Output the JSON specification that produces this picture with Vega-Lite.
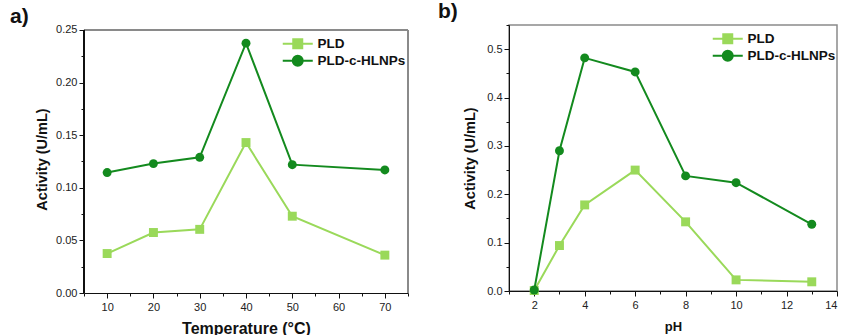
{
  "$schema": "https://vega.github.io/schema/vega-lite/v6.json",
  "padding": {"left": 10, "top": 0, "right": 0, "bottom": 0},
  "spacing": 28,
  "config": {
    "font": "Liberation Sans",
    "view": {"stroke": "#8a8a8a", "strokeWidth": 1.5},
    "axis": {"grid": false, "domainColor": "#111", "tickColor": "#111", "labelColor": "#222", "labelFont": "Liberation Sans", "labelFontSize": 11, "titleFont": "Liberation Sans", "titleFontWeight": "bold", "titleColor": "#111", "domainWidth": 1, "tickWidth": 1, "labelOverlap": false},
    "title": {"font": "Liberation Sans", "fontSize": 21, "fontWeight": "bold", "color": "#111", "anchor": "start", "frame": "group"},
    "legend": {"labelFont": "Liberation Sans", "labelFontSize": 13.5, "labelFontWeight": "bold", "labelColor": "#111", "symbolSize": 100, "labelOffset": 23, "padding": 0}
  },
  "datasets": {
    "temp": [
      {"x": 10, "series": "PLD", "activity": 0.0375},
      {"x": 20, "series": "PLD", "activity": 0.0575},
      {"x": 30, "series": "PLD", "activity": 0.0605},
      {"x": 40, "series": "PLD", "activity": 0.143},
      {"x": 50, "series": "PLD", "activity": 0.073},
      {"x": 70, "series": "PLD", "activity": 0.036},
      {"x": 10, "series": "PLD-c-HLNPs", "activity": 0.1145},
      {"x": 20, "series": "PLD-c-HLNPs", "activity": 0.123},
      {"x": 30, "series": "PLD-c-HLNPs", "activity": 0.129},
      {"x": 40, "series": "PLD-c-HLNPs", "activity": 0.2375},
      {"x": 50, "series": "PLD-c-HLNPs", "activity": 0.122},
      {"x": 70, "series": "PLD-c-HLNPs", "activity": 0.117}
    ],
    "ph": [
      {"x": 2, "series": "PLD", "activity": 0.001},
      {"x": 3, "series": "PLD", "activity": 0.094},
      {"x": 4, "series": "PLD", "activity": 0.178},
      {"x": 6, "series": "PLD", "activity": 0.25},
      {"x": 8, "series": "PLD", "activity": 0.143},
      {"x": 10, "series": "PLD", "activity": 0.023},
      {"x": 13, "series": "PLD", "activity": 0.019},
      {"x": 2, "series": "PLD-c-HLNPs", "activity": 0.002},
      {"x": 3, "series": "PLD-c-HLNPs", "activity": 0.29},
      {"x": 4, "series": "PLD-c-HLNPs", "activity": 0.482},
      {"x": 6, "series": "PLD-c-HLNPs", "activity": 0.453},
      {"x": 8, "series": "PLD-c-HLNPs", "activity": 0.238},
      {"x": 10, "series": "PLD-c-HLNPs", "activity": 0.224},
      {"x": 13, "series": "PLD-c-HLNPs", "activity": 0.138}
    ]
  },
  "hconcat": [
    {
      "width": 324,
      "height": 268,
      "view": {"stroke": null},
      "title": {"text": "a)", "dx": -74, "offset": -3},
      "data": {"name": "temp"},
      "encoding": {
        "x": {"field": "x", "type": "quantitative", "title": "Temperature (°C)",
          "scale": {"domain": [5, 75], "nice": false, "zero": false},
          "axis": {"values": [5, 10, 15, 20, 25, 30, 35, 40, 45, 50, 55, 60, 65, 70, 75], "labelExpr": "datum.value % 10 === 0 ? datum.label : ''", "tickSize": {"condition": {"test": "datum.value % 10 === 0", "value": 5}, "value": 3}, "labelPadding": 3, "titleFontSize": 16, "titlePadding": 8}},
        "y": {"field": "activity", "type": "quantitative", "title": "Activity (U/mL)",
          "scale": {"domain": [0, 0.25475], "nice": false},
          "axis": {"domain": false, "values": [0, 0.025, 0.05, 0.075, 0.1, 0.125, 0.15, 0.175, 0.2, 0.225, 0.25], "format": ".2f", "labelExpr": "abs(round(datum.value*20) - datum.value*20) < 0.001 ? datum.label : ''", "tickSize": {"condition": {"test": "abs(round(datum.value*20) - datum.value*20) < 0.001", "value": 5}, "value": 3}, "labelPadding": 2, "titleFontSize": 14.5, "titlePadding": 6}}
      },
      "layer": [
        {"mark": {"type": "rule", "color": "#8a8a8a", "strokeWidth": 1.5},
          "encoding": {"x": {"datum": 5, "type": "quantitative"}, "x2": {"datum": 75}, "y": {"datum": 0.25, "type": "quantitative"}}},
        {"mark": {"type": "rule", "color": "#8a8a8a", "strokeWidth": 1.5},
          "encoding": {"x": {"datum": 75, "type": "quantitative"}, "y": {"datum": 0, "type": "quantitative"}, "y2": {"datum": 0.25}}},
        {"mark": {"type": "rule", "color": "#111", "strokeWidth": 1},
          "encoding": {"x": {"datum": 5, "type": "quantitative"}, "y": {"datum": 0, "type": "quantitative"}, "y2": {"datum": 0.25}}},
        {"mark": {"type": "line", "strokeWidth": 2},
          "encoding": {
            "color": {"field": "series", "type": "nominal", "scale": {"domain": ["PLD", "PLD-c-HLNPs"], "range": ["#9ad95a", "#138a1e"]},
              "legend": {"title": null, "orient": "none", "legendX": 197, "legendY": 12, "rowPadding": -2,
                "encode": {"symbols": {"update": {
                  "shape": {"signal": "datum.value === 'PLD' ? 'M-1,0H5M1.1,-0.9H2.9V0.9H1.1Z' : 'M-1,0H5M3,0A1,1,0,1,1,1,0A1,1,0,1,1,3,0'"},
                  "stroke": {"signal": "datum.value === 'PLD' ? '#9ad95a' : '#138a1e'"},
                  "fill": {"signal": "datum.value === 'PLD' ? '#9ad95a' : '#138a1e'"},
                  "strokeWidth": {"value": 2}, "opacity": {"value": 1}, "fillOpacity": {"value": 1}, "strokeOpacity": {"value": 1}, "size": {"value": 100}
                }}}}}
          }},
        {"transform": [{"filter": "datum.series === 'PLD'"}],
          "mark": {"type": "point", "shape": "square", "filled": true, "opacity": 1, "size": 80},
          "encoding": {
            "color": {"field": "series", "type": "nominal", "scale": {"domain": ["PLD", "PLD-c-HLNPs"], "range": ["#9ad95a", "#138a1e"]}}
          }},
        {"transform": [{"filter": "datum.series !== 'PLD'"}],
          "mark": {"type": "point", "shape": "circle", "filled": true, "opacity": 1, "size": 80},
          "encoding": {
            "color": {"field": "series", "type": "nominal", "scale": {"domain": ["PLD", "PLD-c-HLNPs"], "range": ["#9ad95a", "#138a1e"]}}
          }}
      ]
    },
    {
      "width": 328,
      "height": 266,
      "title": {"text": "b)", "dx": -71, "offset": -3},
      "data": {"name": "ph"},
      "encoding": {
        "x": {"field": "x", "type": "quantitative", "title": "pH",
          "scale": {"domain": [1, 14], "nice": false, "zero": false},
          "axis": {"values": [1, 2, 3, 4, 5, 6, 7, 8, 9, 10, 11, 12, 13, 14], "labelExpr": "datum.value % 2 === 0 ? datum.label : ''", "tickSize": {"condition": {"test": "datum.value % 2 === 0", "value": 5}, "value": 3}, "labelPadding": 3, "titleFontSize": 13, "titlePadding": 10}},
        "y": {"field": "activity", "type": "quantitative", "title": "Activity (U/mL)",
          "scale": {"domain": [0, 0.55], "nice": false},
          "axis": {"values": [0, 0.05, 0.1, 0.15, 0.2, 0.25, 0.3, 0.35, 0.4, 0.45, 0.5, 0.55], "format": ".1f", "labelExpr": "abs(round(datum.value*10) - datum.value*10) < 0.001 ? datum.label : ''", "tickSize": {"condition": {"test": "abs(round(datum.value*10) - datum.value*10) < 0.001", "value": 5}, "value": 3}, "labelPadding": 2, "titleFontSize": 14.5, "titlePadding": 9}}
      },
      "layer": [
        {"mark": {"type": "line", "strokeWidth": 2},
          "encoding": {
            "color": {"field": "series", "type": "nominal", "scale": {"domain": ["PLD", "PLD-c-HLNPs"], "range": ["#9ad95a", "#138a1e"]},
              "legend": {"title": null, "orient": "none", "legendX": 202, "legendY": 7, "rowPadding": -2,
                "encode": {"symbols": {"update": {
                  "shape": {"signal": "datum.value === 'PLD' ? 'M-1,0H5M1.1,-0.9H2.9V0.9H1.1Z' : 'M-1,0H5M3,0A1,1,0,1,1,1,0A1,1,0,1,1,3,0'"},
                  "stroke": {"signal": "datum.value === 'PLD' ? '#9ad95a' : '#138a1e'"},
                  "fill": {"signal": "datum.value === 'PLD' ? '#9ad95a' : '#138a1e'"},
                  "strokeWidth": {"value": 2}, "opacity": {"value": 1}, "fillOpacity": {"value": 1}, "strokeOpacity": {"value": 1}, "size": {"value": 100}
                }}}}}
          }},
        {"transform": [{"filter": "datum.series === 'PLD'"}],
          "mark": {"type": "point", "shape": "square", "filled": true, "opacity": 1, "size": 80},
          "encoding": {
            "color": {"field": "series", "type": "nominal", "scale": {"domain": ["PLD", "PLD-c-HLNPs"], "range": ["#9ad95a", "#138a1e"]}}
          }},
        {"transform": [{"filter": "datum.series !== 'PLD'"}],
          "mark": {"type": "point", "shape": "circle", "filled": true, "opacity": 1, "size": 80},
          "encoding": {
            "color": {"field": "series", "type": "nominal", "scale": {"domain": ["PLD", "PLD-c-HLNPs"], "range": ["#9ad95a", "#138a1e"]}}
          }}
      ]
    }
  ],
  "resolve": {"scale": {"color": "independent"}, "legend": {"color": "independent"}}
}
